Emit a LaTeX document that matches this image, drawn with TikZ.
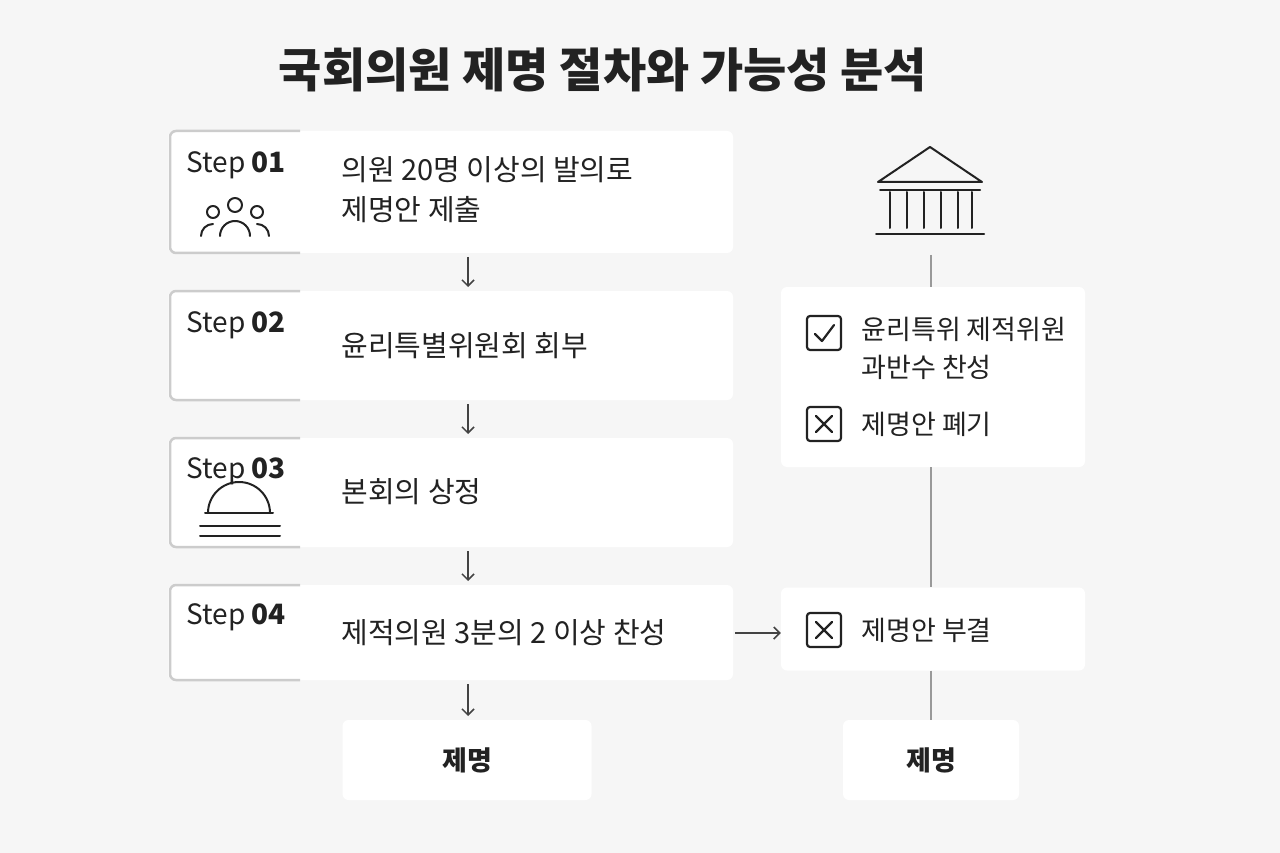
\documentclass[tikz,border=0pt]{standalone}
\usepackage{fontspec}
\setmainfont{Noto Sans CJK KR}
\usetikzlibrary{arrows.meta}
\definecolor{bg}{HTML}{F6F6F6}
\definecolor{ink}{HTML}{222222}
\tikzset{
 card/.style={fill=white,draw=none,rounded corners=6pt},
 txt/.style={anchor=west,font=\fontsize{29}{40}\selectfont,text=ink,align=left},
 rtxt/.style={anchor=west,font=\fontsize{27}{38}\selectfont,text=ink,align=left},
 steplbl/.style={anchor=west,font=\fontsize{28}{32}\selectfont,text=ink},
 arr/.style={-{Straight Barb[length=6pt,width=12pt]},line width=1.5pt,draw=ink!85},
 vline/.style={line width=2pt,draw=gray!80},
 icon/.style={line width=2pt,draw=ink,line cap=round,line join=round},
}
\begin{document}
\begin{tikzpicture}[x=1pt,y=-1pt]
\fill[bg] (0,0) rectangle (1280,853);
\useasboundingbox (0,0) rectangle (1280,853);
\node[font=\fontsize{47}{56}\selectfont\bfseries,text=ink] (title) at (603,70) {국회의원 제명 절차와 가능성 분석};
\foreach \n/\a/\b in {s1/131/253,s2/291/400,s3/438/547,s4/585/680}{
  \fill[white,rounded corners=6pt] (168,\a) rectangle (733,\b);
  \draw[gray!40,line width=2.5pt,rounded corners=6pt] (300,\a) -- (170,\a) -- (170,\b) -- (300,\b);
  \coordinate (\n b) at (468,\b);
}
\node[steplbl] (l1) at (183,165) {Step \textbf{01}};
\node[steplbl] (l2) at (183,325) {Step \textbf{02}};
\node[steplbl] (l3) at (183,471) {Step \textbf{03}};
\node[steplbl] (l4) at (183,617) {Step \textbf{04}};
\node[txt] (t1) at (338,190) {의원 20명 이상의 발의로\\제명안 제출};
\node[txt] (t2) at (338,346) {윤리특별위원회 회부};
\node[txt] (t3) at (338,492) {본회의 상정};
\node[txt] (t4) at (338,633) {제적의원 3분의 2 이상 찬성};
% people icon
\begin{scope}[icon]
\draw (235,205) circle (7);
\draw (213,212) circle (6);
\draw (257,212) circle (6);
\draw (220,236) arc[start angle=180,end angle=360,radius=15];
\draw (201,236) arc[start angle=180,end angle=270,radius=12];
\draw (269,236) arc[start angle=360,end angle=270,radius=12];
\end{scope}
% dome icon
\begin{scope}[icon]
\draw (208,513) arc[start angle=180,end angle=360,radius=31];
\draw (205,513) -- (273,513);
\draw (200,526) -- (280,526);
\draw (200,536) -- (280,536);
\end{scope}
\node[card,minimum width=249pt,minimum height=80pt,font=\fontsize{27}{30}\selectfont\bfseries,text=ink] (r1) at (467,760) {제명};
\draw[arr] (s1b)++(0,4) -- ++(0,30);
\draw[arr] (s2b)++(0,4) -- ++(0,30);
\draw[arr] (s3b)++(0,4) -- ++(0,30);
\draw[arr] (s4b)++(0,4) -- ++(0,32);
% building
\begin{scope}[icon]
\draw (878,182) -- (930,147) -- (982,182) -- cycle;
\draw (880,190) -- (980,190);
\foreach \x in {890,907,924,941,958,972}{\draw (\x,192) -- (\x,228);}
\draw (876,234) -- (984,234);
\end{scope}
\node[card,minimum width=304pt,minimum height=180pt] (c1) at (933,377) {};
\node[card,minimum width=304pt,minimum height=83pt] (c2) at (933,629) {};
\node[card,minimum width=176pt,minimum height=80pt,font=\fontsize{27}{30}\selectfont\bfseries,text=ink] (r2) at (931,760) {제명};
\coordinate (bt) at (931,255);
\coordinate (af) at (735,633);
\draw[vline] (bt) -- (c1.north -| bt);
\draw[vline] (c1.south -| bt) -- (c2.north -| bt);
\draw[vline] (c2.south -| bt) -- (r2.north);
\draw[arr] (af) -- (af -| c2.west);
\begin{scope}[line width=2.2pt,draw=ink,line cap=round,line join=round]
\draw[rounded corners=3pt] (807,316) rectangle (841,350);
\draw (815,334) -- (822,341) -- (834,325);
\draw[rounded corners=3pt] (807,407) rectangle (841,441);
\draw (816,416) -- (832,432) (832,416) -- (816,432);
\draw[rounded corners=3pt] (807,613) rectangle (841,647);
\draw (816,622) -- (832,638) (832,622) -- (816,638);
\end{scope}
\node[rtxt] (k1) at (858,348) {윤리특위 제적위원\\과반수 찬성};
\node[rtxt] (k2) at (858,424) {제명안 폐기};
\node[rtxt] (k3) at (858,630) {제명안 부결};
\end{tikzpicture}
\end{document}
